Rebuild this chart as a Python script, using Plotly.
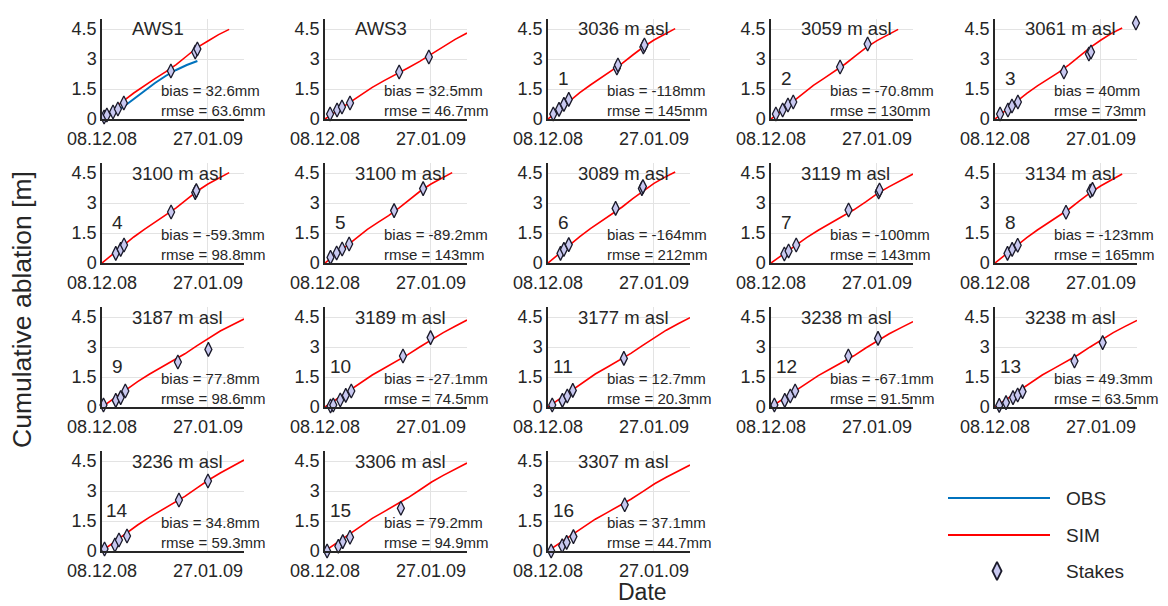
import plotly.graph_objects as go

W, H = 1168, 606

TITLES = ["AWS1", "AWS3", "3036 m asl", "3059 m asl", "3061 m asl",
          "3100 m asl", "3100 m asl", "3089 m asl", "3119 m asl", "3134 m asl",
          "3187 m asl", "3189 m asl", "3177 m asl", "3238 m asl", "3238 m asl",
          "3236 m asl", "3306 m asl", "3307 m asl"]
NUMS = ["", "", "1", "2", "3", "4", "5", "6", "7", "8", "9", "10", "11", "12", "13", "14", "15", "16"]
BIAS = ["32.6mm", "32.5mm", "-118mm", "-70.8mm", "40mm", "-59.3mm", "-89.2mm", "-164mm", "-100mm", "-123mm",
        "77.8mm", "-27.1mm", "12.7mm", "-67.1mm", "49.3mm", "34.8mm", "79.2mm", "37.1mm"]
RMSE = ["63.6mm", "46.7mm", "145mm", "130mm", "73mm", "98.8mm", "143mm", "212mm", "143mm", "165mm",
        "98.6mm", "74.5mm", "20.3mm", "91.5mm", "63.5mm", "59.3mm", "94.9mm", "44.7mm"]

# x tick positions (days since 08.12.08)
XTICK_VALS = [0, 50]
XTICK_TEXT = ["08.12.08", "27.01.09"]
YTICK_VALS = [0, 1.5, 3, 4.5]
YTICK_TEXT = ["0", "1.5", "3", "4.5"]

# simulated series time axes (days)
SIM_DAYS_SHORT = [0, 5, 10, 15, 20, 25, 30, 35, 40, 45, 50, 55, 60]
SIM_DAYS_LONG = [0, 5.6, 11.2, 16.8, 22.3, 27.9, 33.5, 39.1, 44.7, 50.3, 55.8, 61.4, 67]
SIM_LONG = [False, True, False, False, False, False, False, False, True, False,
            True, True, True, True, True, True, True, True]

SIM_VALS = [
    [0, 0.45, 0.90, 1.30, 1.68, 2.02, 2.36, 2.72, 3.15, 3.58, 3.90, 4.22, 4.48],
    [0, 0.40, 0.82, 1.22, 1.58, 1.92, 2.22, 2.55, 2.88, 3.25, 3.62, 3.98, 4.30],
    [0, 0.44, 0.90, 1.32, 1.70, 2.05, 2.40, 2.78, 3.20, 3.60, 3.95, 4.25, 4.52],
    [0, 0.42, 0.88, 1.30, 1.68, 2.03, 2.37, 2.75, 3.17, 3.58, 3.92, 4.20, 4.48],
    [0, 0.43, 0.88, 1.28, 1.66, 2.00, 2.33, 2.72, 3.15, 3.58, 3.95, 4.28, 4.55],
    [0, 0.43, 0.88, 1.30, 1.68, 2.03, 2.38, 2.76, 3.18, 3.60, 3.95, 4.25, 4.52],
    [0, 0.42, 0.87, 1.30, 1.68, 2.03, 2.37, 2.76, 3.18, 3.60, 3.95, 4.25, 4.52],
    [0, 0.44, 0.90, 1.32, 1.72, 2.07, 2.42, 2.80, 3.22, 3.62, 3.98, 4.28, 4.55],
    [0, 0.42, 0.86, 1.27, 1.64, 1.98, 2.30, 2.66, 3.06, 3.48, 3.82, 4.14, 4.45],
    [0, 0.42, 0.86, 1.27, 1.65, 2.00, 2.33, 2.70, 3.12, 3.52, 3.86, 4.16, 4.45],
    [0, 0.42, 0.86, 1.27, 1.64, 1.98, 2.30, 2.66, 3.06, 3.45, 3.80, 4.10, 4.40],
    [0, 0.40, 0.83, 1.23, 1.60, 1.94, 2.26, 2.62, 3.00, 3.38, 3.72, 4.04, 4.35],
    [0, 0.42, 0.86, 1.27, 1.65, 1.99, 2.32, 2.68, 3.08, 3.48, 3.84, 4.16, 4.47],
    [0, 0.40, 0.82, 1.21, 1.57, 1.90, 2.21, 2.56, 2.95, 3.33, 3.66, 3.97, 4.27],
    [0, 0.40, 0.83, 1.23, 1.60, 1.93, 2.25, 2.60, 2.99, 3.38, 3.72, 4.03, 4.33],
    [0, 0.43, 0.88, 1.30, 1.68, 2.03, 2.36, 2.73, 3.14, 3.55, 3.90, 4.23, 4.55],
    [0, 0.41, 0.85, 1.26, 1.63, 1.97, 2.30, 2.66, 3.05, 3.45, 3.78, 4.10, 4.40],
    [0, 0.40, 0.83, 1.23, 1.59, 1.92, 2.24, 2.59, 2.97, 3.36, 3.69, 4.00, 4.30],
]

# observed AWS1 series
OBS_DAYS = [0, 5, 10, 15, 20, 25, 30, 35, 40, 45]
OBS_VALS = [0, 0.30, 0.60, 1.00, 1.40, 1.80, 2.15, 2.45, 2.70, 2.90]

STAKE_DAYS = [
    [1, 2.3, 5.2, 7.5, 10.3, 32.5, 44, 45],
    [2.4, 5.7, 8, 11.8, 35, 49],
    [2.5, 5.2, 7.5, 9.8, 32.5, 33, 45, 45.5],
    [2.3, 5.5, 8, 10.5, 32.6, 45.6],
    [2.4, 6.1, 8, 10.8, 32.5, 44.3, 45.3, 66.5],
    [6.5, 8.8, 10.4, 32.6, 44, 44.5],
    [2.6, 5.5, 8.1, 11.4, 32.6, 46.3],
    [5.9, 7.5, 9.8, 31.9, 44.3, 44.8],
    [6.3, 8.3, 11.9, 36.6, 50.8, 51.2],
    [5.9, 8.1, 10.7, 33.5, 45, 46],
    [0.7, 6.5, 8.8, 11, 35.8, 50.2],
    [2.6, 3.9, 7.2, 9.8, 12.4, 36.8, 49.8],
    [2, 6.8, 9.1, 11.7, 35.8],
    [1.6, 6.5, 9.1, 11.4, 36.5, 50.5],
    [2, 5.2, 8.5, 10.7, 13, 37.5, 50.8],
    [1.2, 6.1, 8, 11.8, 36.3, 50],
    [1, 6.3, 8.4, 11.8, 35.8],
    [1.5, 6.7, 8.8, 12, 36.2],
]
STAKE_VALS = [
    [0.1, 0.2, 0.35, 0.5, 0.8, 2.4, 3.35, 3.5],
    [0.25, 0.45, 0.6, 0.8, 2.35, 3.1],
    [0.25, 0.48, 0.73, 0.98, 2.55, 2.7, 3.6, 3.7],
    [0.25, 0.45, 0.7, 0.85, 2.6, 3.75],
    [0.25, 0.45, 0.65, 0.85, 2.35, 3.25, 3.35, 4.8],
    [0.48, 0.68, 0.9, 2.55, 3.52, 3.62],
    [0.28, 0.5, 0.7, 0.95, 2.62, 3.72],
    [0.48, 0.68, 0.92, 2.73, 3.72, 3.82],
    [0.45, 0.6, 0.9, 2.65, 3.55, 3.65],
    [0.48, 0.68, 0.89, 2.54, 3.6, 3.68],
    [0.1, 0.33, 0.47, 0.8, 2.25, 2.88],
    [0.05, 0.1, 0.35, 0.58, 0.8, 2.55, 3.47],
    [0.1, 0.33, 0.55, 0.83, 2.43],
    [0.1, 0.33, 0.55, 0.8, 2.55, 3.43],
    [0.08, 0.22, 0.47, 0.6, 0.77, 2.3, 3.22],
    [0.1, 0.3, 0.55, 0.75, 2.55, 3.5],
    [0.0, 0.24, 0.47, 0.69, 2.14],
    [0.0, 0.26, 0.43, 0.72, 2.31],
]

LEG_LABELS = ["OBS", "SIM", "Stakes"]

FONT = "Liberation Sans, Arial, Helvetica, sans-serif"
TXT = "#262626"
RED = "#ff0000"
BLUE = "#0072bd"
FILL = "#c8c8f0"

# geometry in pixels
COL_X0 = [102, 325, 548, 771, 995]
ROW_Y0 = [119, 263, 407, 551]
PLOT_W = 142
PLOT_H = 100
XR = [0, 67]
YR = [0, 5]

fig = go.Figure()
layout = {}
annotations = []

for i in range(18):
    r, c = divmod(i, 5)
    n = i + 1
    xa = "x" if n == 1 else f"x{n}"
    ya = "y" if n == 1 else f"y{n}"
    x0 = COL_X0[c]
    yb = ROW_Y0[r]
    layout["xaxis" if n == 1 else f"xaxis{n}"] = dict(
        domain=[x0 / W, (x0 + PLOT_W) / W], anchor=ya, range=XR, automargin=False,
        tickvals=XTICK_VALS, ticktext=XTICK_TEXT, showgrid=True, gridcolor="#e3e3e3",
        gridwidth=1, showline=True, linecolor=TXT, linewidth=1.5, zeroline=False,
        ticks="", ticklabelstandoff=3,
        tickfont=dict(size=18, color=TXT, family=FONT), fixedrange=True)
    layout["yaxis" if n == 1 else f"yaxis{n}"] = dict(
        domain=[(H - yb) / H, (H - yb + PLOT_H) / H], anchor=xa, range=YR, automargin=False,
        tickvals=YTICK_VALS, ticktext=YTICK_TEXT, showgrid=True, gridcolor="#e3e3e3",
        gridwidth=1, showline=True, linecolor=TXT, linewidth=1.5, zeroline=False,
        ticks="", tickfont=dict(size=18, color=TXT, family=FONT), fixedrange=True)

    if i == 0:
        fig.add_trace(go.Scatter(x=OBS_DAYS, y=OBS_VALS, mode="lines", xaxis=xa, yaxis=ya,
                                 line=dict(color=BLUE, width=2), showlegend=False, name="OBS"))
    days = SIM_DAYS_LONG if SIM_LONG[i] else SIM_DAYS_SHORT
    fig.add_trace(go.Scatter(x=days, y=SIM_VALS[i], mode="lines", xaxis=xa, yaxis=ya,
                             line=dict(color=RED, width=1.6), showlegend=False, name="SIM"))
    fig.add_trace(go.Scatter(x=STAKE_DAYS[i], y=STAKE_VALS[i], mode="markers", xaxis=xa, yaxis=ya,
                             marker=dict(symbol="diamond-tall", size=10, color=FILL,
                                         line=dict(color="#1a1a2a", width=1.3)),
                             cliponaxis=False, showlegend=False, name="Stakes"))

    annotations.append(dict(x=13.3, y=4.5, xref=xa, yref=ya, text=TITLES[i], showarrow=False,
                            xanchor="left", yanchor="middle", font=dict(size=18.5, color=TXT, family=FONT)))
    if NUMS[i]:
        annotations.append(dict(x=7.2, y=2.05, xref=xa, yref=ya, text=NUMS[i], showarrow=False,
                                xanchor="center", yanchor="middle", font=dict(size=19, color=TXT, family=FONT)))
    annotations.append(dict(x=27, y=1.45, xref=xa, yref=ya, text="bias = " + BIAS[i], showarrow=False,
                            xanchor="left", yanchor="middle", font=dict(size=15, color=TXT, family=FONT)))
    annotations.append(dict(x=27, y=0.45, xref=xa, yref=ya, text="rmse = " + RMSE[i], showarrow=False,
                            xanchor="left", yanchor="middle", font=dict(size=15, color=TXT, family=FONT)))

# legend drawn in its own hidden axes
LEG_Y = [87, 50, 14]
layout["xaxis19"] = dict(domain=[940 / W, 1060 / W], anchor="y19", range=[0, 120], visible=False,
                         fixedrange=True, automargin=False)
layout["yaxis19"] = dict(domain=[21 / H, 121 / H], anchor="x19", range=[0, 100], visible=False,
                         fixedrange=True, automargin=False)
fig.add_trace(go.Scatter(x=[8, 110], y=[LEG_Y[0], LEG_Y[0]], mode="lines", xaxis="x19", yaxis="y19",
                         line=dict(color=BLUE, width=2), showlegend=False))
fig.add_trace(go.Scatter(x=[8, 110], y=[LEG_Y[1], LEG_Y[1]], mode="lines", xaxis="x19", yaxis="y19",
                         line=dict(color=RED, width=2), showlegend=False))
fig.add_trace(go.Scatter(x=[57], y=[LEG_Y[2]], mode="markers", xaxis="x19", yaxis="y19",
                         marker=dict(symbol="diamond-tall", size=13, color=FILL,
                                     line=dict(color="#1a1a2a", width=1.8)),
                         showlegend=False))
for lab, yy in zip(LEG_LABELS, LEG_Y):
    annotations.append(dict(x=1064 / W, y=(21 + yy) / H, xref="paper", yref="paper", text=lab,
                            showarrow=False, xanchor="left", yanchor="middle",
                            font=dict(size=19, color=TXT, family=FONT)))

# global axis labels
annotations.append(dict(x=642 / W, y=0.0, xref="paper", yref="paper", text="Date", showarrow=False,
                        xanchor="center", yanchor="bottom", borderpad=0,
                        font=dict(size=23, color=TXT, family=FONT)))
annotations.append(dict(x=22 / W, y=(H - 310) / H, xref="paper", yref="paper", text="Cumulative ablation [m]",
                        showarrow=False, textangle=-90, xanchor="center", yanchor="middle",
                        font=dict(size=26.5, color=TXT, family=FONT)))

fig.update_layout(**layout)
fig.update_layout(width=W, height=H, margin=dict(l=0, r=0, t=0, b=0, autoexpand=False),
                  paper_bgcolor="white", plot_bgcolor="white", showlegend=False,
                  annotations=annotations, font=dict(family=FONT, color=TXT))

fig.write_html("out.html")
